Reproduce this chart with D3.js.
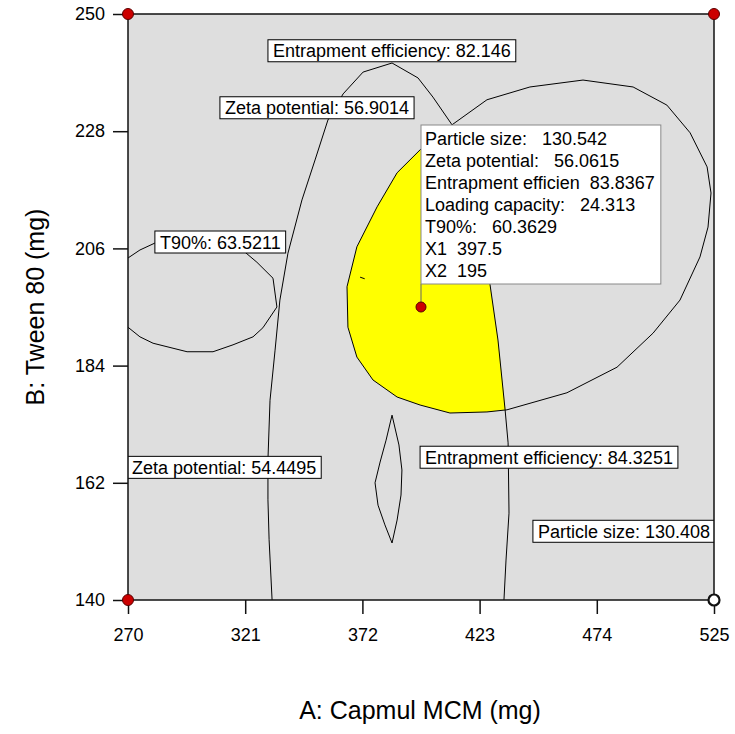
<!DOCTYPE html>
<html>
<head>
<meta charset="utf-8">
<script src="https://cdn.jsdelivr.net/npm/d3@7"></script>
<style>
  body { margin: 0; background: #fff; }
  text { font-family: "Liberation Sans", Arial, sans-serif; fill: #000; }
</style>
</head>
<body>
<script>
// axis ticks
const xTicks = [270, 321, 372, 423, 474, 525];
const yTicks = [140, 162, 184, 206, 228, 250];

// contour lines in data units [Capmul MCM, Tween 80]
const archLine = [
  [332.7, 140.0], [331.4, 151.3], [330.9, 158.8], [330.9, 166.3], [331.8, 177.5],
  [334.0, 186.9], [336.1, 196.3], [339.6, 205.1], [345.7, 215.1], [351.4, 222.6],
  [357.0, 230.1], [363.6, 235.0], [372.3, 239.1], [384.9, 240.8], [396.2, 238.0],
  [402.7, 234.4], [411.0, 229.2], [418.8, 218.8], [424.5, 209.5], [427.5, 199.3],
  [431.0, 188.8], [434.1, 175.7], [435.4, 169.5], [435.8, 156.3], [434.5, 147.5],
  [433.6, 140.0]
];
const t90Line = [
  [270.0, 204.2], [275.2, 205.7], [281.7, 207.0], [297.0, 208.5], [310.0, 208.1],
  [320.9, 205.3], [326.1, 203.4], [333.1, 200.4], [334.8, 195.0], [328.7, 191.1],
  [324.4, 189.4], [315.7, 187.9], [307.0, 186.6], [295.7, 186.6], [280.9, 188.2],
  [275.2, 189.4], [270.0, 191.2]
];
const sizeLoop = [
  [411.0, 229.2], [426.2, 233.9], [444.9, 236.3], [468.0, 237.6], [489.8, 236.3],
  [504.5, 232.9], [514.6, 227.7], [522.0, 221.3], [523.7, 216.4], [522.4, 210.0],
  [518.9, 204.4], [510.2, 196.3], [498.5, 190.1], [482.8, 183.7], [461.0, 178.9],
  [434.9, 175.7], [426.2, 175.3], [410.1, 175.1], [397.1, 176.6], [387.1, 178.1],
  [376.6, 181.3], [369.6, 185.6], [365.7, 191.2], [365.3, 198.8], [369.6, 206.3],
  [378.4, 213.8], [387.1, 220.2], [397.1, 224.5], [404.0, 227.1]
];
const lensLoop = [
  [384.9, 174.7], [382.3, 170.0], [379.7, 165.9], [377.5, 162.0], [378.8, 157.8],
  [381.8, 154.1], [384.9, 150.7], [387.1, 155.0], [388.8, 159.7], [389.2, 164.4],
  [387.9, 169.1]
];
const tickMark = [[371.0, 200.6], [373.0, 200.3]];

// yellow design space
const feasible = [
  [411.0, 229.2], [404.0, 227.1], [397.1, 224.5], [387.1, 220.2], [378.4, 213.8],
  [369.6, 206.3], [365.3, 198.8], [365.7, 191.2], [369.6, 185.6], [376.6, 181.3],
  [387.1, 178.1], [397.1, 176.6], [410.1, 175.1], [426.2, 175.3], [434.3, 175.7],
  [431.0, 188.8], [427.5, 199.3], [424.5, 209.5], [418.8, 218.8]
];

// contour flags: text and anchor (left edge, middle) in data units
const flagText = [
  "Entrapment efficiency: 82.146", "Zeta potential: 56.9014", "T90%: 63.5211",
  "Zeta potential: 54.4495", "Entrapment efficiency: 84.3251", "Particle size: 130.408"
];
const flagX = [330.9, 310.0, 281.7, 269.6, 397.1, 446.2];
const flagY = [243.1, 232.4, 207.2, 164.9, 166.8, 152.9];

// design points
const designPts = [[270, 250], [525, 250], [270, 140]];
const centerPt = [[525, 140]];

// flag point
const optPt = [397.5, 195];
const tipLabels = ["Particle size:", "Zeta potential:", "Entrapment efficien", "Loading capacity:", "T90%:", "X1", "X2"];
const tipValues = ["130.542", "56.0615", "83.8367", "24.313", "60.3629", "397.5", "195"];
const tipGaps = ["   ", "   ", "  ", "   ", "   ", "  ", "  "];

const W = 735, H = 734;
const x = d3.scaleLinear().domain([270, 525]).range([128, 714]);
const y = d3.scaleLinear().domain([140, 250]).range([600, 14]);

const svg = d3.select("body").append("svg")
  .attr("width", W).attr("height", H);

svg.append("defs").append("clipPath").attr("id", "plot")
  .append("rect")
  .attr("x", x(270)).attr("y", y(250))
  .attr("width", x(525) - x(270)).attr("height", y(140) - y(250));

svg.append("rect")
  .attr("x", x(270)).attr("y", y(250))
  .attr("width", x(525) - x(270)).attr("height", y(140) - y(250))
  .attr("fill", "#dedede");

const plot = svg.append("g").attr("clip-path", "url(#plot)");
const line = d3.line().x(d => x(d[0])).y(d => y(d[1]));
const loop = d3.line().x(d => x(d[0])).y(d => y(d[1])).curve(d3.curveLinearClosed);

plot.append("path").attr("d", loop(feasible)).attr("fill", "#ffff00");

[archLine, t90Line, tickMark].forEach(pts => {
  plot.append("path").attr("d", line(pts))
    .attr("fill", "none").attr("stroke", "#000").attr("stroke-width", 1);
});
[sizeLoop, lensLoop].forEach(pts => {
  plot.append("path").attr("d", loop(pts))
    .attr("fill", "none").attr("stroke", "#000").attr("stroke-width", 1);
});

// contour flags
flagText.forEach((t, i) => {
  const g = plot.append("g").attr("transform", `translate(${x(flagX[i])},${y(flagY[i])})`);
  const r = g.append("rect");
  const txt = g.append("text").attr("x", 5).attr("y", 6.5)
    .style("font-size", "18px").text(t);
  const w = txt.node().getComputedTextLength();
  r.attr("x", 0).attr("y", -11).attr("width", w + 10).attr("height", 22)
    .attr("fill", "#fff").attr("stroke", "#000").attr("stroke-width", 1);
});

// frame
svg.append("rect")
  .attr("x", x(270)).attr("y", y(250))
  .attr("width", x(525) - x(270)).attr("height", y(140) - y(250))
  .attr("fill", "none").attr("stroke", "#111").attr("stroke-width", 1.5);

// axes
const xAxis = svg.append("g")
  .attr("transform", `translate(0,${y(140)})`)
  .call(d3.axisBottom(x).tickValues(xTicks).tickSize(14).tickPadding(14).tickFormat(d3.format("d")));
const yAxis = svg.append("g")
  .attr("transform", `translate(${x(270)},0)`)
  .call(d3.axisLeft(y).tickValues(yTicks).tickSize(15).tickPadding(8).tickFormat(d3.format("d")));
[xAxis, yAxis].forEach(a => {
  a.select(".domain").remove();
  a.selectAll(".tick line").attr("stroke", "#111").attr("stroke-width", 1.5);
  a.selectAll(".tick text").attr("fill", "#000")
    .style("font-size", "18px").style("font-family", '"Liberation Sans", Arial, sans-serif');
});

svg.append("text")
  .attr("x", 420).attr("y", 719)
  .attr("text-anchor", "middle")
  .style("font-size", "25px")
  .text("A: Capmul MCM (mg)");
svg.append("text")
  .attr("transform", `translate(44,${(y(250) + y(140)) / 2}) rotate(-90)`)
  .attr("text-anchor", "middle")
  .style("font-size", "25px")
  .text("B: Tween 80 (mg)");

// design points
svg.selectAll(".dp").data(designPts).enter().append("circle")
  .attr("cx", d => x(d[0])).attr("cy", d => y(d[1])).attr("r", 5.5)
  .attr("fill", "#cc0000").attr("stroke", "#5a0000").attr("stroke-width", 1);
svg.selectAll(".cp").data(centerPt).enter().append("circle")
  .attr("cx", d => x(d[0])).attr("cy", d => y(d[1])).attr("r", 5.5)
  .attr("fill", "#fff").attr("stroke", "#111").attr("stroke-width", 2.2);

// flag box
const px = x(optPt[0]), py = y(optPt[1]);
const lineH = 22, boxH = 20 + lineH * (tipLabels.length - 1) + 7;
const boxTop = py - 23 - boxH;
svg.append("line").attr("x1", px).attr("x2", px).attr("y1", py).attr("y2", py - 23)
  .attr("stroke", "#666").attr("stroke-width", 1);
const tip = svg.append("g").attr("transform", `translate(${px},${boxTop})`);
const tipRect = tip.append("rect");
let maxW = 0;
tipLabels.forEach((l, i) => {
  const t = tip.append("text")
    .attr("x", 4).attr("y", 20 + i * lineH)
    .style("font-size", "18px").style("white-space", "pre")
    .text(l + tipGaps[i] + tipValues[i]);
  maxW = Math.max(maxW, t.node().getComputedTextLength());
});
tipRect.attr("x", 0).attr("y", 0).attr("width", maxW + 10).attr("height", boxH)
  .attr("fill", "#fff").attr("stroke", "#888").attr("stroke-width", 1);
svg.append("circle").attr("cx", px).attr("cy", py).attr("r", 5)
  .attr("fill", "#cc0000").attr("stroke", "#5a0000").attr("stroke-width", 1);
</script>
</body>
</html>
